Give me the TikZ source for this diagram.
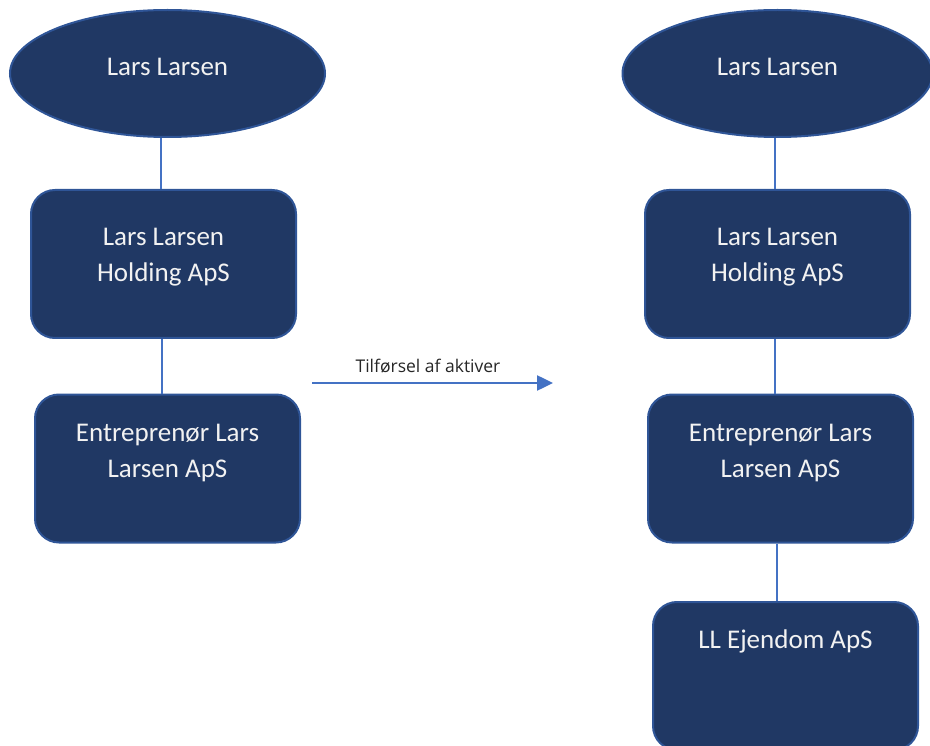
\documentclass[tikz,border=0pt]{standalone}
\usepackage{fontspec}
\setmainfont{Carlito}
\newfontfamily\notefont{Open Sans}
\usetikzlibrary{shapes.geometric,arrows.meta}
\definecolor{boxfill}{HTML}{203864}
\definecolor{boxedge}{HTML}{2F5597}
\definecolor{linkblue}{HTML}{4472C4}
\definecolor{boxtext}{HTML}{F2F2F2}
\definecolor{notetext}{HTML}{262626}
\tikzset{
  shape base/.style={fill=boxfill, draw=boxedge, line width=2pt, inner sep=0pt},
  oval/.style={shape base, ellipse, minimum width=#1, minimum height=127pt},
  entity/.style={shape base, rectangle, rounded corners=24pt, minimum width=265pt, minimum height=148pt},
  caption/.style={text=boxtext, font=\fontsize{27}{36}\selectfont, align=center, inner sep=0pt},
  link/.style={draw=linkblue, line width=2.5pt},
  transfer/.style={draw=linkblue, line width=2.5pt, -{Triangle[length=16pt,width=15pt]}},
  note/.style={font=\notefont\fontsize{17.5}{21}\selectfont, text=notetext, inner sep=0pt}
}
\begin{document}
\begin{tikzpicture}[x=1pt,y=-1pt]
\useasboundingbox (0,0) rectangle (930,746);
\clip (0,0) rectangle (930,746);

% left structure
\node[oval=315pt] (lperson) at (167.5,73.5) {};
\node[entity] (lhold) at (163.5,264) {};
\node[entity] (lent) at (167.5,468.5) {};
\node[caption] (lpersonT) at (167.5,67) {Lars Larsen};
\node[caption] (lholdT) at (163.5,257) {Lars Larsen\\Holding ApS};
\node[caption] (lentT) at (167.5,453) {Entreprenør Lars\\Larsen ApS};
\draw[link] ([xshift=-6.5pt]lperson.south) -- ([xshift=-2.5pt]lhold.north);
\draw[link] ([xshift=-1.5pt]lhold.south) -- ([xshift=-5.5pt]lent.north);

% transfer arrow
\coordinate (tstart) at (312,383);
\coordinate (tend) at (553,383);
\draw[transfer] (tstart) -- (tend);
\node[note] (tlabel) at (428,366) {Tilførsel af aktiver};

% right structure
\node[oval=310pt] (rperson) at (777.5,73.5) {};
\node[entity] (rhold) at (777.5,264) {};
\node[entity] (rent) at (780.5,468.5) {};
\node[entity] (rprop) at (785.5,676) {};
\node[caption] (rpersonT) at (777.5,67) {Lars Larsen};
\node[caption] (rholdT) at (777.5,257) {Lars Larsen\\Holding ApS};
\node[caption] (rentT) at (780.5,453) {Entreprenør Lars\\Larsen ApS};
\node[caption] (rpropT) at (785.5,641) {LL Ejendom ApS};
\draw[link] ([xshift=-2.5pt]rperson.south) -- ([xshift=-2.5pt]rhold.north);
\draw[link] ([xshift=-2.5pt]rhold.south) -- ([xshift=-5.5pt]rent.north);
\draw[link] ([xshift=-3.5pt]rent.south) -- ([xshift=-8.5pt]rprop.north);
\end{tikzpicture}
\end{document}
